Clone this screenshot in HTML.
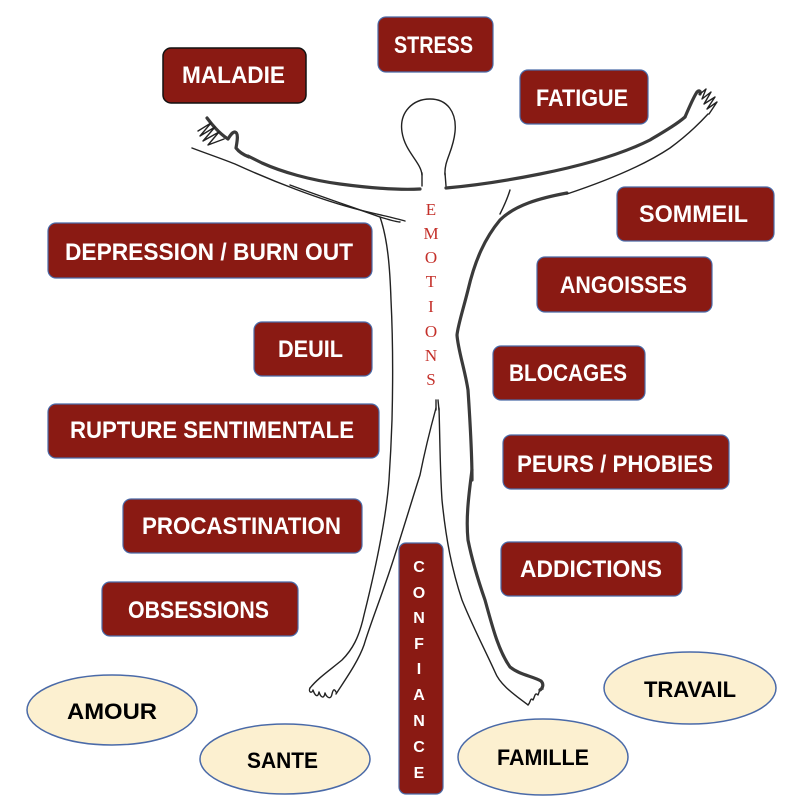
<!DOCTYPE html>
<html>
<head>
<meta charset="utf-8">
<style>
html,body{margin:0;padding:0;background:#fff;}
svg{display:block;}
.b{fill:#8a1a13;stroke:#4a6aa8;stroke-width:1.2;}
.t{font-family:"Liberation Sans",sans-serif;font-weight:bold;font-size:24px;fill:#fff;}
.e{fill:#fcf0d0;stroke:#4a6aa8;stroke-width:1.5;}
.k{font-family:"Liberation Sans",sans-serif;font-weight:bold;font-size:22px;fill:#000;}
.th{fill:none;stroke:#3a3a3a;stroke-width:3.2;stroke-linecap:round;stroke-linejoin:round;}
.tn{fill:none;stroke:#222;stroke-width:1.4;stroke-linecap:round;stroke-linejoin:round;}
.em{font-family:"Liberation Serif",serif;font-size:17px;fill:#c4302a;text-anchor:middle;}
.cf{font-family:"Liberation Sans",sans-serif;font-weight:bold;font-size:16px;fill:#fff;text-anchor:middle;}
</style>
</head>
<body>
<svg width="800" height="804" viewBox="0 0 800 804" xmlns="http://www.w3.org/2000/svg">
<rect width="800" height="804" fill="#fff"/>

<!-- Body figure -->
<g>
  <!-- head -->
  <path class="tn" d="M422,175 C421,162 405,152 402,132 C399,112 413,99 430,99 C447,99 457,112 455,132 C453,152 444,160 445,175"/>
  <path class="tn" d="M422,173 L422,186 M445,173 L446,186"/>
  <!-- left arm upper -->
  <path class="th" d="M420,189 C400,190 370,188 340,184 C310,180 282,172 262,163 C256,160 252,158 248,156"/>
  <!-- left hand -->
  <path class="th" d="M207,118 C213,126 220,134 228,139 C230,136 232,132 235,132 C239,133 237,142 236,148 C239,152 244,155 249,157"/>
  <path class="tn" d="M198,131 L211,123 L200,136 L215,127 L203,141 L219,132 L208,145 L224,139"/>
  <!-- left arm lower -->
  <path class="tn" d="M192,148 C205,153 220,158 235,164 C270,180 320,200 360,210 C380,215 395,218 405,221"/>
  <path class="tn" d="M290,185 C325,198 355,208 380,217 C390,220 396,222 400,222"/>
  <!-- left body side -->
  <path class="tn" d="M380,217 C388,240 390,270 391,300 C393,340 393,380 392,420 C391,450 390,465 389,480 C386,520 374,575 364,615 C359,638 352,650 342,660 C330,670 318,678 310,688"/>
  <!-- left foot -->
  <path class="tn" d="M310,688 C308,692 312,694 313,690 C315,696 318,698 319,692 C321,698 324,699 325,693 C327,698 331,700 332,694 C333,690 334,688 336,692"/>
  <!-- left inner leg -->
  <path class="tn" d="M436,408 C430,430 425,450 420,475 C412,500 400,540 390,570 C380,600 370,625 364,645 C358,662 345,680 336,694"/>
  <!-- crotch -->
  <path class="tn" d="M436,400 L436,410 M438,400 L439,410"/>
  <!-- right inner leg -->
  <path class="tn" d="M439,408 C440,440 440,470 442,500 C446,540 452,570 462,600 C472,625 485,650 495,672 C500,685 515,695 528,705"/>
  <!-- right foot -->
  <path class="tn" d="M528,705 C531,702 530,697 533,700 C535,696 535,692 538,695 C540,690 540,687 543,689"/>
  <!-- right leg outer -->
  <path class="th" d="M472,470 C468,500 466,520 468,540 C472,560 478,580 485,600 C492,625 498,650 510,667 C520,675 532,676 541,681 C544,684 543,688 540,690"/>
  <!-- right body side -->
  <path class="th" d="M567,193 C540,198 515,205 500,220 C485,238 475,260 468,290 C463,310 458,325 457,335 C458,350 465,370 468,390 C470,420 472,450 472,480"/>
  <path class="tn" d="M510,190 C507,200 503,208 500,214"/>
  <!-- right arm upper -->
  <path class="th" d="M446,188 C470,186 500,182 540,174 C580,166 620,155 650,140 C665,131 677,124 685,117"/>
  <!-- right arm lower -->
  <path class="tn" d="M567,194 C600,183 640,168 670,148 C685,137 697,126 708,114"/>
  <!-- right hand -->
  <path class="th" d="M685,117 C689,108 693,98 697,92 C699,90 701,91 700,94"/>
  <path class="tn" d="M700,94 L706,89 L702,99 L711,92 L704,104 L715,97 L707,109 L717,102 L709,114"/>
</g>

<!-- Boxes -->
<rect class="b" x="163" y="48" width="143" height="55" rx="8" style="stroke:#111;stroke-width:1.5"/>
<text class="t" x="182" y="83" textLength="103" lengthAdjust="spacingAndGlyphs">MALADIE</text>

<rect class="b" x="378" y="17" width="115" height="55" rx="8"/>
<text class="t" x="394" y="53" textLength="79" lengthAdjust="spacingAndGlyphs">STRESS</text>

<rect class="b" x="520" y="70" width="128" height="54" rx="8"/>
<text class="t" x="536" y="106" textLength="92" lengthAdjust="spacingAndGlyphs">FATIGUE</text>

<rect class="b" x="617" y="187" width="157" height="54" rx="8"/>
<text class="t" x="639" y="222" textLength="109" lengthAdjust="spacingAndGlyphs">SOMMEIL</text>

<rect class="b" x="537" y="257" width="175" height="55" rx="8"/>
<text class="t" x="560" y="293" textLength="127" lengthAdjust="spacingAndGlyphs">ANGOISSES</text>

<rect class="b" x="48" y="223" width="324" height="55" rx="8"/>
<text class="t" x="65" y="260" textLength="288" lengthAdjust="spacingAndGlyphs">DEPRESSION / BURN OUT</text>

<rect class="b" x="254" y="322" width="118" height="54" rx="8"/>
<text class="t" x="278" y="357" textLength="65" lengthAdjust="spacingAndGlyphs">DEUIL</text>

<rect class="b" x="48" y="404" width="331" height="54" rx="8"/>
<text class="t" x="70" y="438" textLength="284" lengthAdjust="spacingAndGlyphs">RUPTURE SENTIMENTALE</text>

<rect class="b" x="493" y="346" width="152" height="54" rx="8"/>
<text class="t" x="509" y="381" textLength="118" lengthAdjust="spacingAndGlyphs">BLOCAGES</text>

<rect class="b" x="503" y="435" width="226" height="54" rx="8"/>
<text class="t" x="517" y="472" textLength="196" lengthAdjust="spacingAndGlyphs">PEURS / PHOBIES</text>

<rect class="b" x="123" y="499" width="239" height="54" rx="8"/>
<text class="t" x="142" y="534" textLength="199" lengthAdjust="spacingAndGlyphs">PROCASTINATION</text>

<rect class="b" x="501" y="542" width="181" height="54" rx="8"/>
<text class="t" x="520" y="577" textLength="142" lengthAdjust="spacingAndGlyphs">ADDICTIONS</text>

<rect class="b" x="102" y="582" width="196" height="54" rx="8"/>
<text class="t" x="128" y="618" textLength="141" lengthAdjust="spacingAndGlyphs">OBSESSIONS</text>

<!-- CONFIANCE vertical -->
<rect class="b" x="399" y="543" width="44" height="251" rx="7"/>
<text class="cf" x="419" y="572">C</text>
<text class="cf" x="419" y="598">O</text>
<text class="cf" x="419" y="623">N</text>
<text class="cf" x="419" y="649">F</text>
<text class="cf" x="419" y="674">I</text>
<text class="cf" x="419" y="700">A</text>
<text class="cf" x="419" y="726">N</text>
<text class="cf" x="419" y="752">C</text>
<text class="cf" x="419" y="778">E</text>

<!-- EMOTIONS vertical -->
<text class="em" x="431" y="215">E</text>
<text class="em" x="431" y="239">M</text>
<text class="em" x="431" y="263">O</text>
<text class="em" x="431" y="287">T</text>
<text class="em" x="431" y="312">I</text>
<text class="em" x="431" y="337">O</text>
<text class="em" x="431" y="361">N</text>
<text class="em" x="431" y="385">S</text>

<!-- Ellipses -->
<ellipse class="e" cx="112" cy="710" rx="85" ry="35"/>
<text class="k" x="67" y="719" textLength="90" lengthAdjust="spacingAndGlyphs">AMOUR</text>

<ellipse class="e" cx="285" cy="759" rx="85" ry="35"/>
<text class="k" x="247" y="768" textLength="71" lengthAdjust="spacingAndGlyphs">SANTE</text>

<ellipse class="e" cx="543" cy="757" rx="85" ry="38"/>
<text class="k" x="497" y="765" textLength="92" lengthAdjust="spacingAndGlyphs">FAMILLE</text>

<ellipse class="e" cx="690" cy="688" rx="86" ry="36"/>
<text class="k" x="644" y="697" textLength="92" lengthAdjust="spacingAndGlyphs">TRAVAIL</text>
</svg>
</body>
</html>
